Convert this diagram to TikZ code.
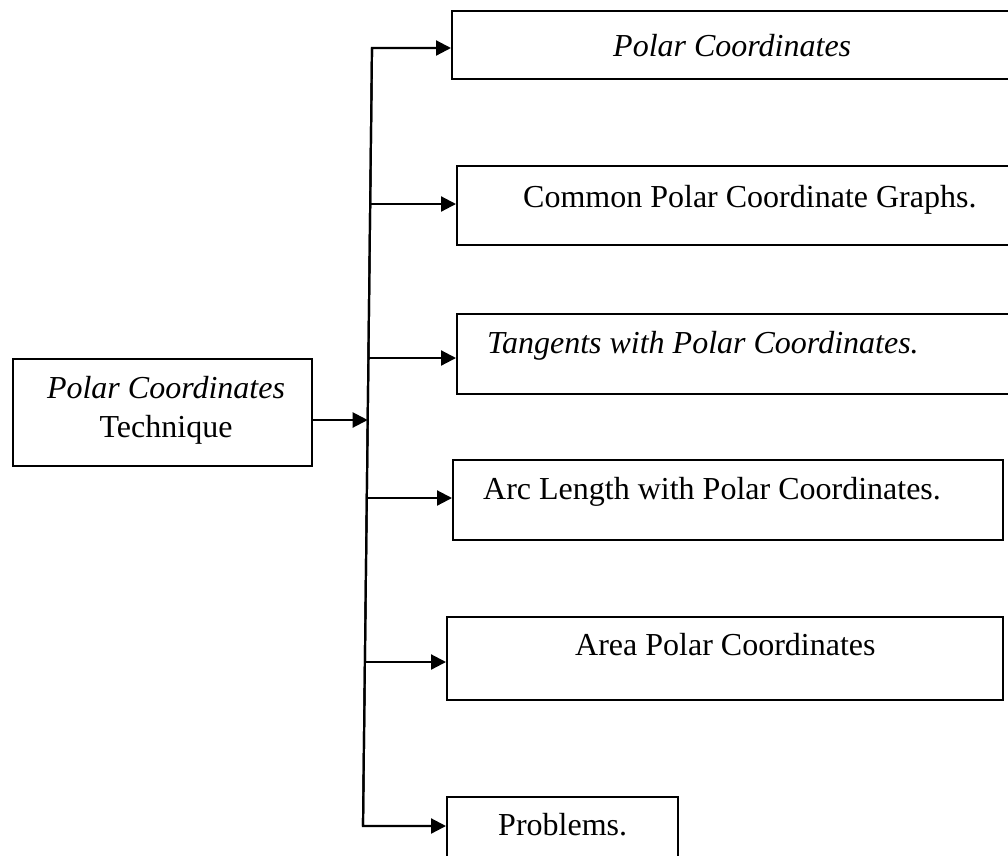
\documentclass[tikz,border=0pt]{standalone}
\usepackage{fontspec}
\setmainfont{Liberation Serif}
\usetikzlibrary{arrows.meta}
\begin{document}
\begin{tikzpicture}[x=1pt,y=-1pt,
  box/.style={draw,line width=2.2pt,rectangle,inner sep=0pt,anchor=north west},
  lbl/.style={inner sep=0pt,font=\fontsize{32}{38}\selectfont},
  arr/.style={line width=2.2pt,-{Triangle[length=15pt,width=15pt]}}]
\useasboundingbox (0,0) rectangle (1008,855);
% boxes
\node[box,minimum width=299pt,minimum height=107pt] (m) at (12,358) {};
\node[box,minimum width=564pt,minimum height=68pt] (b1) at (451,10) {};
\node[box,minimum width=559pt,minimum height=79pt] (b2) at (456,165) {};
\node[box,minimum width=559pt,minimum height=80pt] (b3) at (456,313) {};
\node[box,minimum width=550pt,minimum height=80pt] (b4) at (452,459) {};
\node[box,minimum width=556pt,minimum height=83pt] (b5) at (446,616) {};
\node[box,minimum width=231pt,minimum height=80pt] (b6) at (446,796) {};
% texts
\node[lbl,anchor=base] (mt1) at (166,398) {\itshape Polar Coordinates};
\node[lbl,anchor=base] (mt2) at (166,437) {Technique};
\node[lbl,anchor=base west] (t1) at (613,56) {\itshape Polar Coordinates};
\node[lbl,anchor=base west] (t2) at (523,207) {Common Polar Coordinate Graphs.};
\node[lbl,anchor=base west] (t3) at (487,353) {\itshape Tangents with Polar Coordinates.};
\node[lbl,anchor=base west] (t4) at (483,499) {Arc Length with Polar Coordinates.};
\node[lbl,anchor=base west] (t5) at (575,655) {Area Polar Coordinates};
\node[lbl,anchor=base west] (t6) at (498,835) {Problems.};
% spine coordinates
\coordinate (s1) at (372,48);
\coordinate (s2) at (370.2,204);
\coordinate (s3) at (368.4,358);
\coordinate (sm) at (367.7,420);
\coordinate (s4) at (366.8,498);
\coordinate (s5) at (364.9,662);
\coordinate (s6) at (363,826);
% connectors
\draw[arr] (s6) -- (s1) -- (s1 -| b1.west);
\draw[arr] (s1) -- (s6) -- (s6 -| b6.west);
\draw[arr] (s2) -- (s2 -| b2.west);
\draw[arr] (s3) -- (s3 -| b3.west);
\draw[arr] (s4) -- (s4 -| b4.west);
\draw[arr] (s5) -- (s5 -| b5.west);
\draw[arr] (sm -| m.east) -- (sm);
\end{tikzpicture}
\end{document}
